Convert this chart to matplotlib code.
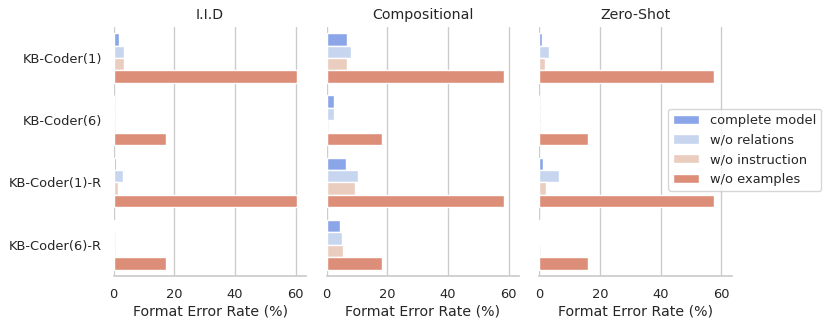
import pandas as pd
import seaborn as sns
import matplotlib
matplotlib.use("Agg")
import matplotlib.pyplot as plt

models = ["KB-Coder(1)", "KB-Coder(6)", "KB-Coder(1)-R", "KB-Coder(6)-R"]
variants = ["complete model", "w/o relations", "w/o instruction", "w/o examples"]
settings = ["I.I.D", "Compositional", "Zero-Shot"]

# error rates per setting, rows = variants, cols = models
iid = {
    "complete model": [1.6, 0.0, 0.6, 0.3],
    "w/o relations": [3.5, 0.0, 3.1, 0.1],
    "w/o instruction": [3.5, 0.0, 1.4, 0.1],
    "w/o examples": [60.4, 17.4, 60.4, 17.4],
}
compositional = {
    "complete model": [6.8, 2.3, 6.5, 4.5],
    "w/o relations": [8.2, 2.3, 10.2, 5.1],
    "w/o instruction": [6.8, 0.3, 9.5, 5.5],
    "w/o examples": [58.5, 18.3, 58.5, 18.3],
}
zero_shot = {
    "complete model": [0.9, 0.0, 1.3, 0.1],
    "w/o relations": [3.2, 0.0, 6.6, 0.1],
    "w/o instruction": [1.8, 0.0, 2.3, 0.0],
    "w/o examples": [57.5, 15.9, 57.5, 15.9],
}

rows = []
for setting, table in zip(settings, [iid, compositional, zero_shot]):
    for variant in variants:
        for model, val in zip(models, table[variant]):
            rows.append({"setting": setting, "variant": variant, "model": model, "rate": val})
df = pd.DataFrame(rows)

sns.set_theme(style="whitegrid")
plt.rcParams["font.family"] = ["DejaVu Sans"]

fig, axes = plt.subplots(1, 3, figsize=(8.3, 3.28), dpi=100, sharex=True, sharey=True)
fig.subplots_adjust(left=0.137, right=0.882, bottom=0.159, top=0.918, wspace=0.105)

for ax, setting in zip(axes, settings):
    sns.barplot(data=df[df.setting == setting], y="model", x="rate", hue="variant",
                order=models, hue_order=variants, palette="coolwarm", orient="h",
                edgecolor="white", linewidth=1, ax=ax)
    ax.set_title(setting, fontsize=10.2)
    ax.set_xlabel("Format Error Rate (%)", fontsize=10.2, labelpad=2.5)
    ax.set_ylabel("")
    ax.legend_.remove()
    ax.tick_params(axis="y", labelsize=9.4, length=0, pad=8.5)
    ax.tick_params(axis="x", labelsize=9.4, length=0, pad=9)
    sns.despine(ax=ax, left=True)

axes[0].set_xticks([0, 20, 40, 60])
axes[0].set_xlim(0, 63.5)

handles, labels = axes[0].get_legend_handles_labels()
fig.legend(handles, labels, loc="center left", bbox_to_anchor=(0.797, 0.543),
           fontsize=9.4, frameon=True)

fig.savefig("out.png")
